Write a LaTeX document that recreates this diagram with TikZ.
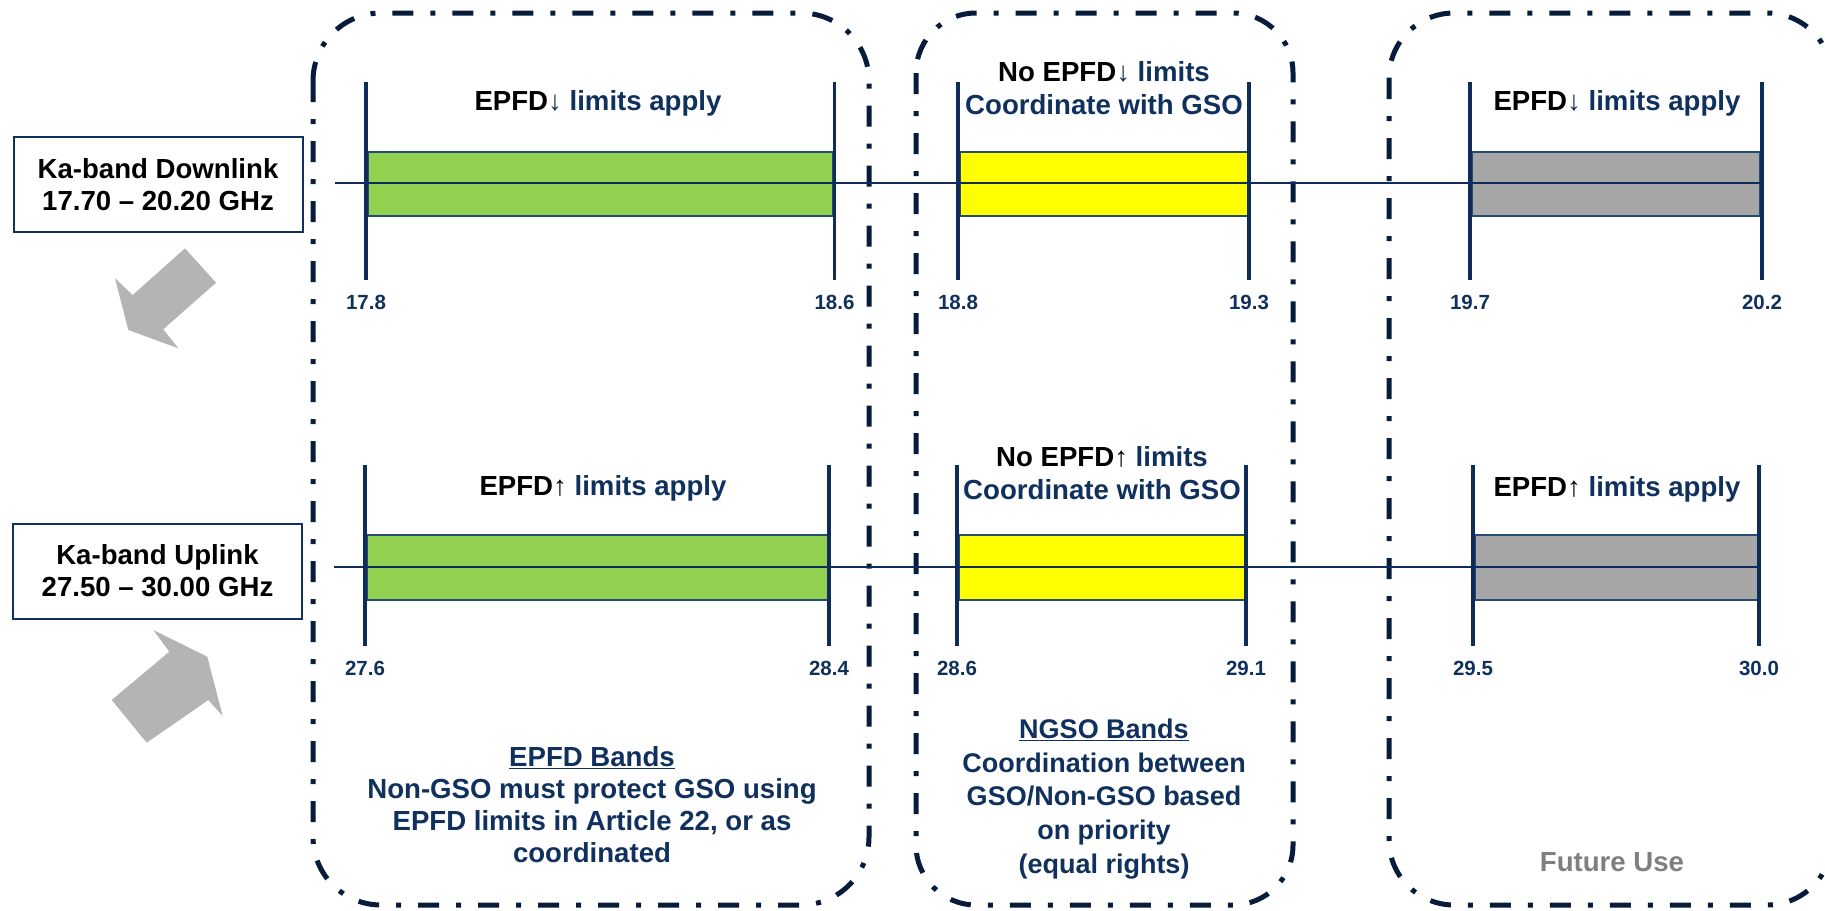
\documentclass[tikz,border=0pt]{standalone}
\usepackage{fontspec}
\setmainfont{Liberation Sans}
\definecolor{navy}{RGB}{16,48,94}
\definecolor{framec}{RGB}{6,28,58}
\definecolor{ticknavy}{RGB}{14,44,88}
\definecolor{barline}{RGB}{40,75,115}
\definecolor{bargreen}{RGB}{146,208,80}
\definecolor{baryellow}{RGB}{255,255,0}
\definecolor{bargray}{RGB}{166,166,166}
\definecolor{arrowgray}{RGB}{180,180,180}
\definecolor{futuregray}{RGB}{127,127,127}
\newcommand{\dnar}{{\mdseries\color{ticknavy}↓}}
\newcommand{\uparr}{{\mdseries\color{black}↑}}
\tikzset{
  frame/.style={draw=framec, line width=5pt, dash pattern=on 21pt off 17pt on 5pt off 17pt},
  tickline/.style={draw=ticknavy, line width=3.2pt},
  axisline/.style={draw=ticknavy, line width=1.5pt},
  bandbar/.style={draw=barline, line width=1.3pt, anchor=west, inner sep=0pt},
  lbl/.style={font=\fontsize{20.5}{24}\selectfont\bfseries, text=navy},
  ttl/.style={font=\fontsize{27.6}{33}\selectfont\bfseries, text=navy, align=center},
  bandbox/.style={draw=navy, line width=2pt, minimum width=289pt, minimum height=95pt, align=center, inner sep=0pt, font=\fontsize{27.6}{32}\selectfont\bfseries},
  bigarrow/.style={fill=arrowgray},
}
\begin{document}
\begin{tikzpicture}[x=1pt,y=-1pt]
\useasboundingbox (0,0) rectangle (1825,910);
\clip (0,0) rectangle (1825,910);

% dash-dot frames
\draw[frame, rounded corners=68pt] (313,13) rectangle (869,905);
\draw[frame, rounded corners=60pt] (916,13) rectangle (1293,905);
\draw[frame, rounded corners=65pt] (1389,13) rectangle (1832,905);

% left boxes
\node[bandbox] (down) at (158,184.5) {Ka-band Downlink\\17.70 -- 20.20 GHz};
\node[bandbox] (up) at (157.5,571) {Ka-band Uplink\\27.50 -- 30.00 GHz};

% big gray arrows
\fill[bigarrow] (185,248.3) -- (216,282.7) -- (163.3,329.3) -- (178.3,348.3) -- (128.3,330) -- (115,278.3) -- (132.7,295) -- cycle;
\fill[bigarrow] (111.7,700) -- (169.3,651.7) -- (153.3,630) -- (207.3,656.7) -- (222.7,716) -- (208.3,700) -- (146.7,742.7) -- cycle;

% downlink bars
\node[bandbar, fill=bargreen, minimum width=464.5pt, minimum height=64pt] (dgreen) at (367.5,184) {};
\node[bandbar, fill=baryellow, minimum width=287pt, minimum height=64pt] (dyellow) at (960,184) {};
\node[bandbar, fill=bargray, minimum width=287pt, minimum height=64pt] (dgray) at (1472,184) {};
\coordinate (dl0) at (335,183);
\coordinate (dl1) at (1762,183);
\draw[axisline] (dl0) -- (dl1);
\foreach \xx/\lab in {366/17.8, 834.5/18.6, 958/18.8, 1249/19.3, 1470/19.7, 1762/20.2} {
  \draw[tickline] (\xx,82) -- (\xx,280);
  \node[lbl] at (\xx,302) {\lab};
}

% uplink bars
\node[bandbar, fill=bargreen, minimum width=460pt, minimum height=65pt] (ugreen) at (367,567.5) {};
\node[bandbar, fill=baryellow, minimum width=286pt, minimum height=65pt] (uyellow) at (959,567.5) {};
\node[bandbar, fill=bargray, minimum width=283pt, minimum height=65pt] (ugray) at (1475,567.5) {};
\coordinate (ul0) at (334,567);
\coordinate (ul1) at (1759,567);
\draw[axisline] (ul0) -- (ul1);
\foreach \xx/\lab in {365/27.6, 829/28.4, 957/28.6, 1246/29.1, 1473/29.5, 1759/30.0} {
  \draw[tickline] (\xx,465) -- (\xx,646);
  \node[lbl] at (\xx,668) {\lab};
}

% titles
\node[ttl] (t1) at (598,103) {\textcolor{black}{EPFD}\dnar{} limits apply};
\node[ttl] (t2) at (1104,88.5) {\textcolor{black}{No EPFD}\dnar{} limits\\Coordinate with GSO};
\node[ttl] (t3) at (1617,103) {\textcolor{black}{EPFD}\dnar{} limits apply};
\node[ttl] (t4) at (603,488) {\textcolor{black}{EPFD}\uparr{} limits apply};
\node[ttl] (t5) at (1102,473.5) {\textcolor{black}{No EPFD}\uparr{} limits\\Coordinate with GSO};
\node[ttl] (t6) at (1617,489) {\textcolor{black}{EPFD}\uparr{} limits apply};

% bottom texts
\node[font=\fontsize{27.6}{32}\selectfont\bfseries, text=navy, align=center] (epfd) at (592,805)
  {\underline{EPFD Bands}\\Non-GSO must protect GSO using\\EPFD limits in Article 22, or as\\coordinated};
\node[font=\fontsize{27}{33.7}\selectfont\bfseries, text=navy, align=center] (ngso) at (1104,799)
  {\underline{NGSO Bands}\\Coordination between\\GSO/Non-GSO based\\on priority\\(equal rights)};
\node[font=\fontsize{27.6}{32}\selectfont\bfseries, text=futuregray] (future) at (1612,862) {Future Use};
\end{tikzpicture}
\end{document}
